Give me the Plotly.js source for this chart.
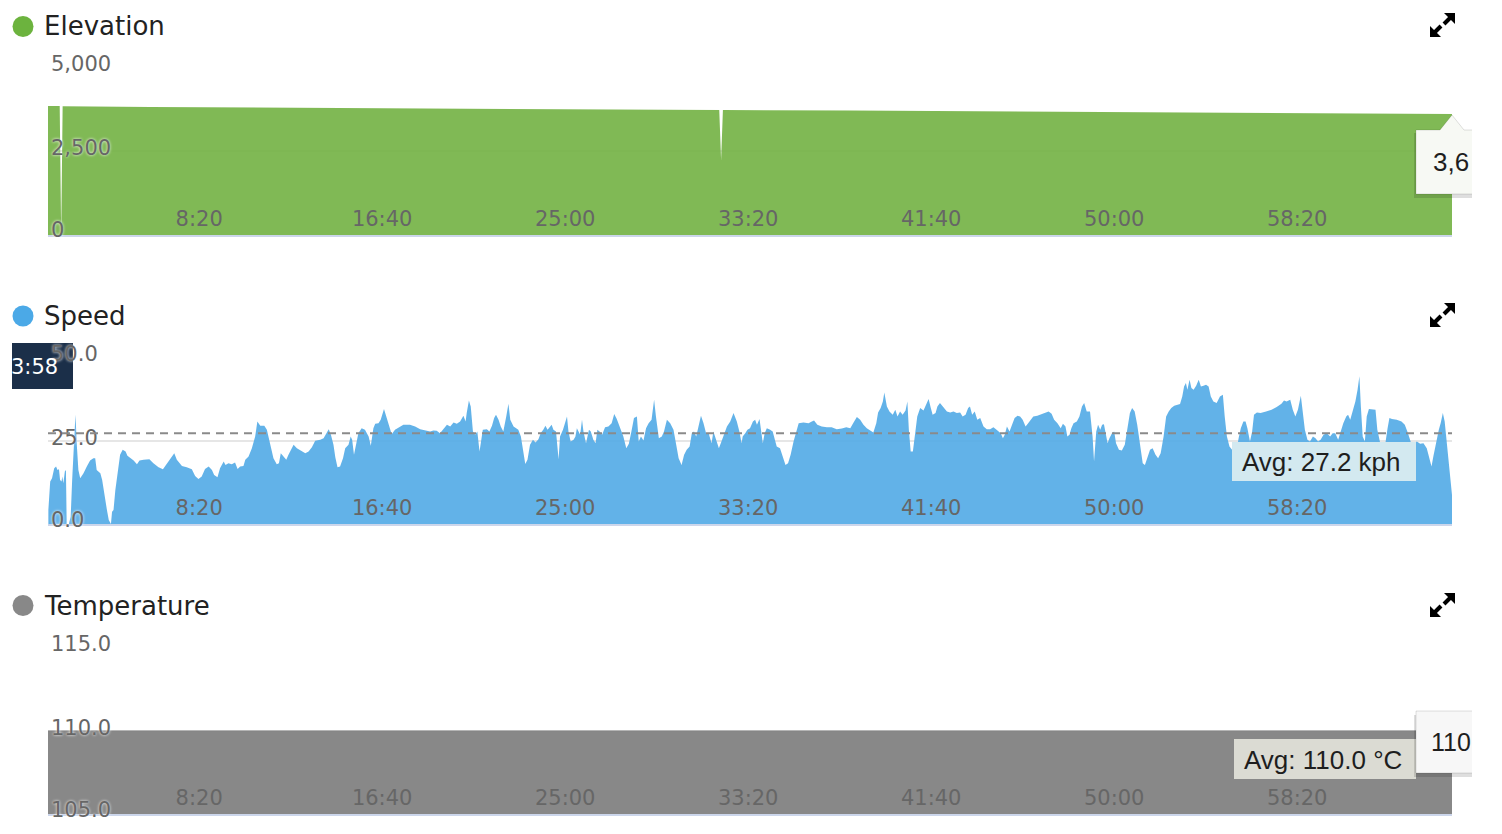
<!DOCTYPE html>
<html><head><meta charset="utf-8">
<script src="https://cdn.plot.ly/plotly-3.0.1.min.js"></script>
<style>
html,body{margin:0;padding:0;background:#fff;overflow:hidden}
#chart{width:1502px;height:834px;clip-path:inset(0px 30px 0px 12px)}
</style></head><body><div id="chart"></div>
<script>
// ---------- DATA ----------
const timeTickVals = [500, 1000, 1500, 2000, 2500, 3000, 3500];
const timeTickText = ['8:20', '16:40', '25:00', '33:20', '41:40', '50:00', '58:20'];

const elevTime = [87, 119, 123, 127, 366, 776, 1049, 1459, 1869, 1921, 1926, 1931, 2278, 2688, 3098, 3508, 3923];
const elevation = [3840, 3838, 0, 3835, 3810, 3780, 3765, 3750, 3720, 3718, 2230, 3717, 3705, 3675, 3645, 3622, 3601];
const elevTicks = [0, 2500, 5000];

const speedTime = [88,93,98,104,109,113,117,120,124,126,129,133,136,138,144,149,153,157,162,166,170,175,184,193,202,211,216,220,230,235,240,248,253,259,262,266,271,277,284,291,299,304,313,321,330,337,348,364,375,389,401,412,425,432,439,453,466,480,489,498,507,516,526,535,541,550,557,567,572,580,589,598,605,612,621,626,635,644,653,659,667,678,685,694,703,712,718,723,730,738,744,750,758,767,776,790,799,808,817,831,840,847,854,860,867,872,878,885,893,899,908,914,918,923,929,935,944,953,963,969,976,981,990,996,1005,1013,1026,1035,1049,
1058,1076,1090,1104,1122,1131,1140,1149,1158,1168,1177,1186,1195,1204,1213,1222,1228,1231,1237,1242,1248,1254,1260,1266,1270,1275,1286,1293,1300,1306,1311,1318,1324,1331,1339,1345,1350,1359,1366,1372,1379,1384,1391,1397,1404,1412,1419,1427,1433,1441,1446,1452,1457,1463,1468,1475,1482,1486,1494,1500,1505,1509,1515,1523,1528,1532,1536,1541,1546,1550,1557,1565,1570,1577,1583,1588,1594,1601,1609,1618,1627,1634,1641,1650,1659,1667,1674,1681,1688,1696,1701,1707,1714,1721,1728,1736,1743,1748,1756,1764,1770,1778,1787,1796,1803,1810,1818,1825,1832,1840,1846,1852,1858,1863,1871,1878,1885,1892,1900,1905,1912,1920,1927,1934,1942,1951,1960,1969,1976,
1982,1985,1992,1998,2005,2013,2019,2024,2031,2036,2040,2045,2051,2060,2067,2073,2078,2087,2095,2102,2109,2116,2124,2131,2138,2151,2165,2174,2180,2189,2201,2215,2228,2242,2256,2268,2279,2288,2297,2306,2315,2324,2335,2342,2350,2355,2362,2368,2372,2379,2386,2395,2402,2408,2415,2422,2430,2435,2439,2444,2450,2455,2462,2470,2479,2486,2493,2499,2504,2512,2517,2524,2534,2543,2552,2561,2570,2579,2586,2594,2601,2606,2612,2619,2626,2634,2643,2652,2661,2670,2677,2684,2690,2696,2701,2707,2714,2721,2728,2736,2743,2750,2758,2765,2772,2779,2790,2801,2812,2821,2829,2836,2845,2854,2860,2867,2872,2878,2883,2889,2898,2905,2912,2918,2925,2934,
2941,2945,2951,2956,2962,2967,2972,2978,2982,2987,2994,3000,3005,3013,3021,3029,3036,3043,3049,3056,3063,3071,3078,3084,3091,3098,3105,3113,3120,3127,3135,3142,3149,3156,3164,3171,3180,3186,3191,3196,3200,3206,3211,3217,3224,3231,3237,3244,3251,3258,3264,3271,3280,3289,3297,3302,3308,3315,3322,3329,3335,3340,3346,3353,3359,3364,3371,3377,3382,3390,3400,3415,3430,3444,3457,3464,3471,3481,3488,3495,3502,3510,3513,3521,3528,3535,3543,3550,3557,3564,3572,3581,3590,3597,3604,3612,3619,3626,3634,3639,3645,3652,3659,3665,3670,3674,3679,3685,3690,3696,3705,3714,3719,3727,3734,3741,3747,3752,3759,3772,3785,3794,3801,3809,3816,3821,3827,3836,3845,3854,3861,3867,3872,3880,3887,3892,3898,3903,3909,3916,3923];
const speed = [4.2,12.7,13.7,16.7,17.2,16.2,16.4,13.2,12.7,14.2,12.2,15.7,16.2,0,0,2.2,13.2,21.2,32.7,23.2,16.2,13.7,15.2,17.2,19.0,19.7,19.7,16.2,15.2,13.2,9.2,4.2,1.2,0,3.7,4.2,10.2,15.2,20.7,22.2,21.7,20.4,19.7,19.0,17.9,19.0,19.2,19.4,18.2,17.0,16.4,18.2,20.4,21.2,19.2,17.4,17.0,16.4,14.4,13.5,14.2,16.5,17.2,16.2,14.7,14.0,16.7,18.7,17.7,18.2,17.9,18.4,16.5,17.2,17.4,19.2,20.2,22.7,26.2,30.7,29.4,29.4,28.2,23.7,19.7,17.9,18.2,21.2,20.4,19.2,20.7,22.2,23.7,22.7,22.2,21.2,21.7,23.0,24.9,25.2,25.7,27.2,28.4,26.7,23.7,20.0,17.0,17.2,19.7,22.7,23.7,26.2,25.2,20.7,24.2,27.2,28.7,28.2,26.2,23.4,28.7,30.0,30.2,31.2,34.4,31.7,26.9,28.2,29.2,
29.7,29.7,29.2,28.4,28.0,27.7,28.0,27.9,27.2,28.7,29.7,29.2,30.4,30.0,30.7,32.4,30.7,33.2,37.0,35.2,27.7,26.7,27.7,21.7,24.7,28.2,28.4,27.7,29.4,31.7,32.7,31.2,29.2,27.7,32.2,36.0,31.2,29.2,28.7,28.2,26.2,22.2,18.0,19.2,23.7,25.2,24.4,25.4,27.2,28.4,29.4,28.2,29.0,29.7,28.2,27.7,19.4,26.2,28.2,30.2,32.2,27.7,24.7,25.2,26.2,28.7,27.7,26.7,31.2,27.7,24.2,28.2,27.7,25.2,24.2,28.2,27.7,26.7,29.0,29.2,30.2,32.9,31.4,28.7,26.2,22.7,24.0,27.7,31.7,32.2,24.7,26.2,25.0,28.7,30.2,31.2,37.2,32.2,25.7,26.2,27.7,31.2,30.2,28.2,23.7,19.7,17.7,20.7,22.2,23.2,27.2,27.7,26.2,28.7,32.4,30.2,27.2,27.2,24.2,27.7,25.2,22.7,24.7,26.7,29.2,30.7,33.2,30.7,27.7,
24.2,26.2,27.2,28.2,28.7,30.7,31.2,29.7,31.4,27.7,24.2,27.2,28.7,28.2,27.7,25.2,23.2,22.7,20.2,17.7,18.2,20.7,24.7,27.7,30.2,30.4,30.2,30.7,31.0,29.7,29.2,29.0,29.0,28.4,28.6,29.0,28.7,30.4,32.0,31.2,29.7,28.7,28.0,27.4,30.2,33.4,34.7,36.7,39.4,35.2,33.7,32.7,34.2,32.2,33.7,32.7,34.0,36.7,28.2,21.7,21.7,26.2,32.2,34.7,34.0,35.7,37.4,34.7,32.7,33.2,35.2,36.2,34.7,33.7,33.4,33.7,33.2,33.4,32.2,32.7,34.7,35.2,32.7,33.7,31.2,31.7,29.2,28.4,28.4,29.0,28.4,27.7,27.2,25.7,26.7,29.2,27.7,29.7,31.7,32.4,32.2,31.2,29.2,30.2,31.2,32.2,32.4,32.9,33.4,33.7,33.0,31.2,30.2,28.7,30.0,29.2,26.2,26.7,28.7,30.2,30.7,32.2,35.2,36.2,33.7,33.7,
26.2,18.7,27.7,29.7,28.2,29.7,29.9,26.7,24.2,25.7,27.2,27.7,24.2,22.2,22.0,23.7,28.7,33.2,34.7,33.7,29.7,22.7,18.2,17.7,19.7,22.2,22.7,20.7,19.7,21.2,26.2,32.2,33.7,34.7,35.4,35.7,35.9,38.2,41.2,42.2,40.2,43.2,40.7,40.2,41.4,43.2,41.2,41.4,41.7,41.2,38.2,36.7,36.2,38.2,38.7,32.2,26.2,23.2,22.2,23.0,22.7,25.7,28.7,30.7,30.7,28.7,24.7,27.7,32.7,33.4,33.2,33.7,34.2,35.0,36.0,37.0,36.7,37.2,34.2,32.2,34.2,38.4,35.2,28.2,25.2,24.7,26.2,25.7,24.7,25.2,26.7,27.2,26.2,27.2,27.2,25.2,27.7,30.2,32.2,32.7,31.2,34.2,36.7,40.2,44.2,35.2,26.2,24.7,32.2,34.4,34.4,34.2,28.2,24.2,22.7,24.2,28.7,31.7,31.4,31.2,30.7,29.7,27.7,24.7,22.7,24.2,24.7,24.0,24.2,22.7,19.7,17.2,20.2,24.7,28.2,30.2,33.2,30.7,24.2,16.2,8.7];
const speedTicks = [0, 25, 50];
const speedAvg = 27.2;

const tempTime = [87, 1000, 2000, 3000, 3923];
const temperature = [110, 110, 110, 110, 110];
const tempTicks = [105, 110, 115];
const tempAvg = 110.0;

// visible parts of the hover texts (cut by the card edge in the reference)
const elevTooltipText = '3,6';
const tempTooltipText = '110';
const hoverTimeLabel = '3:58';

// ---------- LAYOUT HELPERS ----------
const W = 1502, H = 834;
const px = x => x / W;
const py = y => 1 - y / H;
const tickFont = {family: 'DejaVu Sans', size: 21, color: '#666'};
const yTickFont = Object.assign({}, tickFont, {shadow: '0px 0px 3px #fff'});

function xAxis(anchor) {
  return {
    domain: [px(48), px(1452)], range: [87, 3923], anchor: anchor,
    tickmode: 'array', tickvals: timeTickVals, ticktext: timeTickText,
    ticklabelposition: 'inside', ticklabelstandoff: 6, ticks: '', showgrid: false, zeroline: false,
    showline: true, linecolor: '#ccd6eb', linewidth: 2,
    tickfont: tickFont, fixedrange: true
  };
}
function yAxis(anchor, top, bottom, range, ticks, fmt) {
  return {
    domain: [py(bottom), py(top)], range: range, anchor: anchor,
    tickmode: 'array', tickvals: ticks, tickformat: fmt,
    ticklabelposition: 'inside', ticklabeloverflow: 'allow', ticks: '',
    ticklabelshift: -3,
    showgrid: true, gridcolor: '#e6e6e6', gridwidth: 2, zeroline: false, showline: false,
    tickfont: yTickFont, fixedrange: true
  };
}

const traces = [
  {type: 'scatter', mode: 'lines', x: elevTime, y: elevation, xaxis: 'x', yaxis: 'y',
   fill: 'tozeroy', fillcolor: 'rgba(117,179,70,0.92)', line: {width: 0, color: 'rgba(117,179,70,0.92)'}, hoverinfo: 'skip'},
  {type: 'scatter', mode: 'lines', x: speedTime, y: speed, xaxis: 'x2', yaxis: 'y2',
   fill: 'tozeroy', fillcolor: 'rgba(85,171,230,0.92)', line: {width: 0, color: 'rgba(85,171,230,0.92)'}, hoverinfo: 'skip'},
  {type: 'scatter', mode: 'lines', x: tempTime, y: temperature, xaxis: 'x3', yaxis: 'y3',
   fill: 'tozeroy', fillcolor: 'rgba(126,126,126,0.92)', line: {width: 0, color: 'rgba(126,126,126,0.92)'}, hoverinfo: 'skip'}
];

function pathPx(pts) {
  return 'M' + pts.map(p => px(p[0]) + ',' + py(p[1])).join(' L') + ' Z';
}
function rectPx(x0, y0, x1, y1, fill, layer, line) {
  return {type: 'rect', xref: 'paper', yref: 'paper', x0: px(x0), x1: px(x1), y0: py(y1), y1: py(y0),
    fillcolor: fill, line: line || {width: 0}, layer: layer || 'above'};
}
function dot(cx, cy, r, color) {
  return {type: 'circle', xref: 'paper', yref: 'paper', x0: px(cx - r), x1: px(cx + r), y0: py(cy + r), y1: py(cy - r),
    fillcolor: color, line: {width: 0}};
}
function icon(cy) {
  const r = 1455, l = 1430, t = cy - 12, b = cy + 12;
  return [
    {type: 'path', xref: 'paper', yref: 'paper', path: pathPx([[r, t], [r - 11, t], [r, t + 11]]), fillcolor: '#000', line: {width: 0}},
    {type: 'line', xref: 'paper', yref: 'paper', x0: px(r - 4), y0: py(t + 4), x1: px(r - 11), y1: py(t + 11), line: {color: '#000', width: 4}},
    {type: 'path', xref: 'paper', yref: 'paper', path: pathPx([[l, b], [l + 11, b], [l, b - 11]]), fillcolor: '#000', line: {width: 0}},
    {type: 'line', xref: 'paper', yref: 'paper', x0: px(l + 4), y0: py(b - 4), x1: px(l + 11), y1: py(b - 11), line: {color: '#000', width: 4}}
  ];
}

const shapes = [
  dot(23, 26.5, 10.5, '#6cb33e'),
  dot(23, 316, 10.5, '#4ba9e7'),
  dot(23, 605.5, 10.5, '#888888'),
  ...icon(25), ...icon(315), ...icon(605),
  // speed average line
  {type: 'line', xref: 'x2 domain', yref: 'y2', x0: 0, x1: 1, y0: speedAvg, y1: speedAvg,
   line: {color: '#8a8a8a', width: 2, dash: '8px,6px'}, layer: 'above'},
  rectPx(1232, 442, 1416, 481, '#d3e9f0'),
  rectPx(1234, 739, 1416, 779, '#dbdbd3'),
  // elevation tooltip (shadow + box with pointer)
  {type: 'path', xref: 'paper', yref: 'paper', path: pathPx([[1414, 133], [1502, 133], [1502, 198], [1414, 198]]), fillcolor: 'rgba(0,0,0,0.13)', line: {width: 0}},
  {type: 'path', xref: 'paper', yref: 'paper', path: pathPx([[1416, 130], [1440, 130], [1452, 115], [1464, 130], [1502, 130], [1502, 194], [1416, 194]]),
   fillcolor: '#f7f9f4', line: {color: 'rgba(0,0,0,0.12)', width: 1}},
  // temperature tooltip
  {type: 'path', xref: 'paper', yref: 'paper', path: pathPx([[1414, 715], [1502, 715], [1502, 777], [1414, 777]]), fillcolor: 'rgba(0,0,0,0.13)', line: {width: 0}},
  rectPx(1416, 711, 1502, 773, '#f7f7f7', 'above', {color: 'rgba(0,0,0,0.12)', width: 1}),
  // crosshair time label
  rectPx(12, 343, 73, 389, '#1b2f49', 'between')
];

function textAnn(text, x, y, font, anchor) {
  return {text: text, xref: 'paper', yref: 'paper', x: px(x), y: py(y), xanchor: anchor || 'left', yanchor: 'middle',
    showarrow: false, font: font, borderpad: 0};
}
// bottom y tick labels (Plotly hides inside labels sitting on the counter axis)
function bottomLabel(text, yref, value, shift) {
  return {text: text, xref: 'paper', yref: yref, x: px(50), y: value, xanchor: 'left', yanchor: 'middle',
    yshift: shift, showarrow: false, font: yTickFont, borderpad: 0};
}
const titleFont = {family: 'DejaVu Sans', size: 26, color: '#222'};
const labelFont = {family: 'Liberation Sans', size: 26, color: '#1e1e1e'};

const annotations = [
  textAnn('Elevation', 43, 26, titleFont),
  textAnn('Speed', 43, 316, titleFont),
  textAnn('Temperature', 43, 606, titleFont),
  bottomLabel(elevTicks[0].toLocaleString('en-US'), 'y', elevTicks[0], 5),
  bottomLabel(speedTicks[0].toFixed(1), 'y2', speedTicks[0], 4),
  bottomLabel(tempTicks[0].toFixed(1), 'y3', tempTicks[0], 4),
  textAnn('Avg: ' + speedAvg.toFixed(1) + ' kph', 1241, 462, labelFont),
  textAnn('Avg: ' + tempAvg.toFixed(1) + ' °C', 1243, 760, labelFont),
  textAnn(elevTooltipText, 1432, 162, labelFont),
  textAnn(tempTooltipText, 1430, 742, {family: 'Liberation Sans', size: 25, color: '#1e1e1e'}),
  textAnn(hoverTimeLabel, 59, 367, {family: 'DejaVu Sans', size: 21, color: '#fff'}, 'right')
];

const layout = {
  width: W, height: H, margin: {l: 0, r: 0, t: 0, b: 0, pad: 0},
  paper_bgcolor: '#fff', plot_bgcolor: 'rgba(0,0,0,0)', showlegend: false, hovermode: false,
  xaxis: xAxis('y'), yaxis: yAxis('x', 67, 235, [0, 5000], elevTicks, ','),
  xaxis2: xAxis('y2'), yaxis2: yAxis('x2', 357, 524, [0, 50], speedTicks, '.1f'),
  xaxis3: xAxis('y3'), yaxis3: yAxis('x3', 647, 814, [105, 115], tempTicks, '.1f'),
  shapes: shapes, annotations: annotations
};

Plotly.newPlot('chart', traces, layout, {staticPlot: true, displayModeBar: false});
</script></body></html>
